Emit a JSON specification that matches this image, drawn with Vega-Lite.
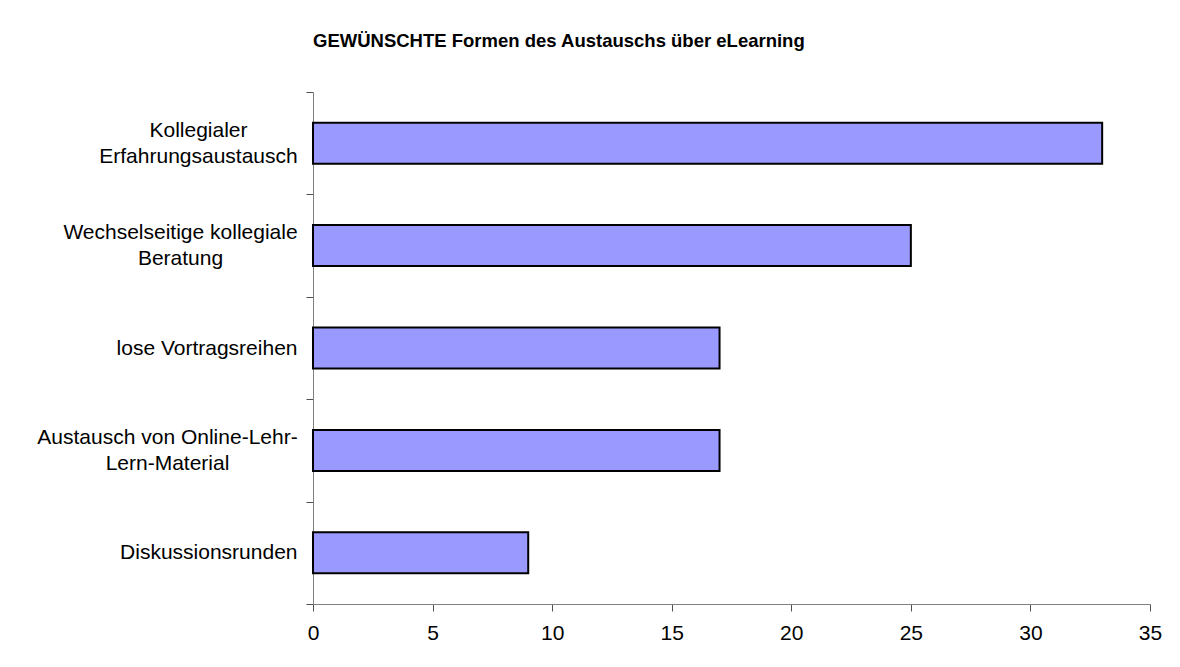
{
  "$schema": "https://vega.github.io/schema/vega-lite/v6.json",
  "autosize": "none",
  "padding": {"left": 313, "top": 92, "right": 30, "bottom": 63},
  "width": 837,
  "height": 512,
  "background": "white",
  "title": {
    "text": "GEWÜNSCHTE Formen des Austauschs über eLearning",
    "anchor": "start",
    "frame": "group",
    "font": "Liberation Sans",
    "fontSize": 18.5,
    "fontWeight": "bold",
    "color": "black",
    "offset": 16,
    "baseline": "alphabetic"
  },
  "data": {
    "values": [
      {"form": "Kollegialer Erfahrungsaustausch", "count": 33},
      {"form": "Wechselseitige kollegiale Beratung", "count": 25},
      {"form": "lose Vortragsreihen", "count": 17},
      {"form": "Austausch von Online-Lehr-Lern-Material", "count": 17},
      {"form": "Diskussionsrunden", "count": 9}
    ]
  },
  "mark": {"type": "bar", "color": "#9999FF", "stroke": "black", "strokeWidth": 2, "height": {"band": 0.4}},
  "encoding": {
    "y": {
      "field": "form",
      "type": "nominal",
      "sort": null,
      "scale": {"paddingInner": 0, "paddingOuter": 0},
      "axis": {
        "title": null,
        "ticks": true,
        "tickBand": "extent",
        "tickSize": 7,
        "tickWidth": 1,
        "tickColor": "#505050",
        "domainColor": "#808080",
        "labelFont": "Liberation Sans",
        "labelFontSize": 21,
        "labelColor": "black",
        "labelLimit": 400,
        "labelLineHeight": 26,
        "labelExpr": "datum.value == 'Kollegialer Erfahrungsaustausch' ? ['Kollegialer', 'Erfahrungsaustausch'] : datum.value == 'Wechselseitige kollegiale Beratung' ? ['Wechselseitige kollegiale', 'Beratung'] : datum.value == 'Austausch von Online-Lehr-Lern-Material' ? ['Austausch von Online-Lehr-', 'Lern-Material'] : datum.value",
        "labelAlign": {
          "condition": {"test": "datum.value == 'Kollegialer Erfahrungsaustausch' || datum.value == 'Wechselseitige kollegiale Beratung' || datum.value == 'Austausch von Online-Lehr-Lern-Material'", "value": "center"},
          "value": "right"
        },
        "labelPadding": {
          "condition": [
            {"test": "datum.value == 'Kollegialer Erfahrungsaustausch'", "value": 108},
            {"test": "datum.value == 'Wechselseitige kollegiale Beratung'", "value": 126},
            {"test": "datum.value == 'Austausch von Online-Lehr-Lern-Material'", "value": 139}
          ],
          "value": 9
        },
        "labelOffset": {
          "condition": {"test": "datum.value == 'Kollegialer Erfahrungsaustausch' || datum.value == 'Wechselseitige kollegiale Beratung' || datum.value == 'Austausch von Online-Lehr-Lern-Material'", "value": -13},
          "value": 0
        }
      }
    },
    "x": {
      "field": "count",
      "type": "quantitative",
      "scale": {"domain": [0, 35], "nice": false},
      "axis": {
        "title": null,
        "values": [0, 5, 10, 15, 20, 25, 30, 35],
        "grid": false,
        "tickSize": 7,
        "tickColor": "#505050",
        "domainColor": "#808080",
        "labelFont": "Liberation Sans",
        "labelFontSize": 21,
        "labelColor": "black",
        "labelPadding": 11,
        "labelFlush": false
      }
    }
  },
  "config": {
    "view": {"stroke": null}
  }
}
